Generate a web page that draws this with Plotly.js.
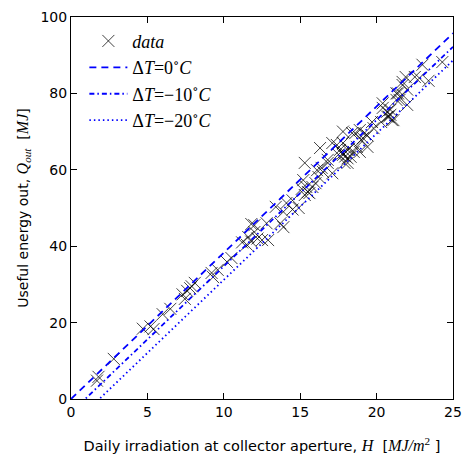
<!DOCTYPE html>
<html>
<head>
<meta charset="utf-8">
<script src="https://cdn.plot.ly/plotly-3.0.1.min.js"></script>
<style>html,body{margin:0;padding:0;background:#fff;}#chart{width:463px;height:458px;}</style>
</head>
<body>
<div id="chart"></div>
<script>
// Measured daily data: irradiation H [MJ/m2] and useful energy Q_out [MJ]
const irradiationH = [
  1.8, 1.7, 2.8, 4.7, 5.2, 5.4, 6.0, 6.5, 7.3, 7.45, 7.6, 7.8, 8.1, 9.2, 9.3, 9.6,
  10.2, 10.5, 11.2, 11.5, 11.8, 11.6, 12.2, 12.5, 11.8, 12.0, 12.8, 13.7, 13.4, 13.9,
  14.1, 14.5, 14.5, 14.9, 15.2, 15.3, 15.4, 15.5, 15.3, 15.6, 15.8, 16.0, 16.1, 16.2,
  16.4, 16.3, 16.5, 16.8, 16.8, 17.1, 17.1, 17.4, 17.6, 17.8, 17.8, 17.8, 17.9, 18.1,
  18.1, 18.1, 18.3, 17.8, 18.4, 18.5, 18.6, 18.7, 18.9, 18.9, 19.0, 19.1, 19.2, 19.4,
  19.4, 19.7, 19.8, 20.3, 20.4, 20.4, 20.7, 20.7, 20.8, 20.9, 20.9, 21.0, 21.1, 21.3,
  21.3, 21.4, 21.5, 21.7, 21.7, 21.7, 21.9, 22.0, 22.0, 22.5, 22.8, 23.0, 23.4, 24.3,
  12.9, 13.9, 12.0, 7.9, 17.5, 18.2, 17.95, 15.1
];
const energyQout = [
  5.8, 4.8, 10.5, 18.4, 19.0, 18.3, 22.2, 23.6, 27.4, 26.2, 28.3, 29.0, 30.4, 33.0, 31.9, 33.8,
  35.9, 36.9, 41.0, 40.4, 41.2, 42.4, 42.0, 41.6, 45.8, 45.5, 46.0, 46.0, 50.3, 49.0,
  51.3, 49.6, 52.0, 50.0, 57.3, 53.4, 55.5, 54.2, 61.8, 53.9, 55.5, 56.5, 59.9, 58.1,
  60.5, 65.7, 59.4, 62.6, 61.8, 67.0, 59.1, 66.5, 65.2, 64.4, 67.0, 63.9, 61.8, 65.2,
  63.0, 61.8, 63.4, 70.0, 69.6, 64.7, 69.6, 66.0, 70.4, 64.7, 67.8, 68.3, 69.6, 69.0,
  66.0, 72.5, 70.9, 72.5, 76.2, 77.4, 75.2, 73.9, 73.9, 74.4, 75.7, 73.0, 73.0, 78.3,
  80.0, 80.0, 78.3, 82.2, 79.6, 83.0, 84.3, 77.0, 81.0, 84.3, 84.0, 87.5, 83.3, 88.2,
  41.6, 45.0, 43.7, 29.5, 64.0, 65.5, 63.5, 55.0
];

// Model lines: Q = slope*H + dTcoef*dT
const modelSlope = 3.83;
const modelDTCoef = 0.355;
const deltaTs = [0, -10, -20];
const deltaTLabels = ['0', '\u221210', '\u221220'];
const lineH = [0, 25];

const xTicks = [0, 5, 10, 15, 20, 25];
const yTicks = [0, 20, 40, 60, 80, 100];

const serif = 'font-family:Liberation Serif,DejaVu Serif,serif';
const serifBig = serif + ';font-size:16px';
const dashes = ['7px,5px', '5px,3px,1.5px,3px', '1.5px,3px'];

const traces = [{
  x: irradiationH, y: energyQout, type: 'scatter', mode: 'markers',
  name: '<span style="' + serif + '"><i>data</i></span>',
  marker: {symbol: 'x-thin', size: 12, color: 'rgba(0,0,0,0.75)', line: {width: 1, color: 'rgba(0,0,0,0.75)'}},
  cliponaxis: true
}];
deltaTs.forEach((dT, i) => {
  traces.push({
    x: lineH,
    y: lineH.map(h => modelSlope * h + modelDTCoef * dT),
    type: 'scatter', mode: 'lines',
    name: '<span style="' + serif + '">\u0394<i>T</i>=' + deltaTLabels[i] + '<sup>\u2218</sup><i>C</i></span>',
    line: {color: '#0000ff', width: 1.8, dash: dashes[i]}
  });
});

const axisCommon = {
  showgrid: false, zeroline: false, showline: true, linecolor: '#000', linewidth: 1,
  mirror: 'ticks', ticks: 'inside', ticklen: 6, tickcolor: '#000',
  tickfont: {family: 'DejaVu Sans', size: 14, color: '#000'}
};

const layout = {
  width: 463, height: 458,
  margin: {l: 71, r: 10, t: 17, b: 59},
  paper_bgcolor: '#fff', plot_bgcolor: '#fff',
  showlegend: true,
  legend: {x: 0.035, y: 0.985, xanchor: 'left', yanchor: 'top', bgcolor: 'rgba(0,0,0,0)',
           font: {family: 'Liberation Serif', size: 18, color: '#000'}, tracegroupgap: 0, itemwidth: 38},
  xaxis: Object.assign({}, axisCommon, {
    range: [0, 25], tickvals: xTicks, ticktext: xTicks.map(String),
    title: {text: 'Daily irradiation at collector aperture, <span style="' + serifBig + '"><i>H</i></span>  [<span style="' + serifBig + '"><i>MJ/m</i><sup>2</sup></span> ]',
            font: {family: 'DejaVu Sans', size: 14.5, color: '#000'}, standoff: 22}
  }),
  yaxis: Object.assign({}, axisCommon, {
    range: [0, 100], tickvals: yTicks, ticktext: yTicks.map(String),
    title: {text: 'Useful energy out, <span style="' + serifBig + '"><i>Q</i><sub><i>out</i></sub></span>  [<span style="' + serifBig + '"><i>MJ</i></span>]',
            font: {family: 'DejaVu Sans', size: 14, color: '#000'}, standoff: 8}
  })
};

Plotly.newPlot('chart', traces, layout, {displayModeBar: false, staticPlot: true});
</script>
</body>
</html>
